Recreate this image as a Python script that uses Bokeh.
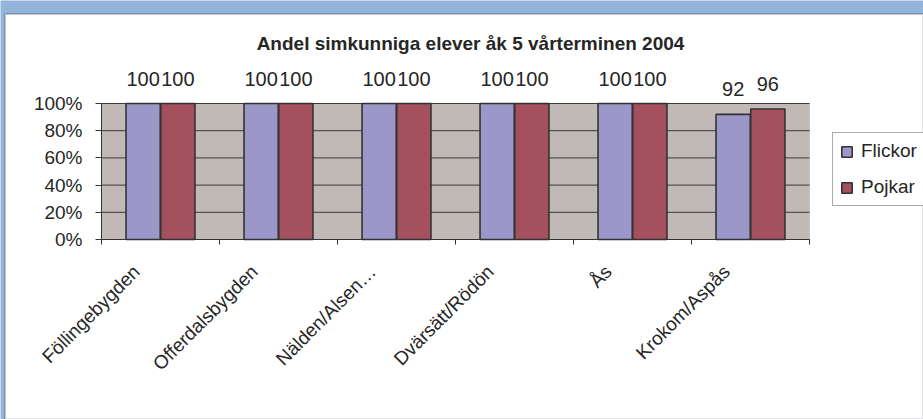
import math
from bokeh.plotting import figure
from bokeh.models import (ColumnDataSource, Range1d, FixedTicker,
                          PrintfTickFormatter, CustomJSTickFormatter, LabelSet,
                          Label, Legend, LegendItem, BoxAnnotation)
from bokeh.core.properties import value
from bokeh.transform import dodge
from bokeh.embed import file_html
from bokeh.resources import INLINE

# ---- data ----
categories = ["Föllingebygden", "Offerdalsbygden", "Nälden/Alsen…",
              "Dvärsätt/Rödön", "Ås", "Krokom/Aspås"]
flickor = [100, 100, 100, 100, 100, 92]
pojkar = [100, 100, 100, 100, 100, 96]
series_names = ["Flickor", "Pojkar"]
y_ticks = [0, 20, 40, 60, 80, 100]
title_text = "Andel simkunniga elever åk 5 vårterminen 2004"

# ---- layout (pixels) ----
W, H = 923, 419
AXIS_X_PX = 101      # x pixel of the value axis
SLOT_PX = 118        # width of one category slot
ZERO_PX = 239        # y pixel of 0 %
UNIT_PX = 1.36       # pixels per percentage point

def dx(px):
    return (px - AXIS_X_PX) / SLOT_PX

def dy(py):
    return (ZERO_PX - py) / UNIT_PX

FONT = "Liberation Sans"
TXT = "#262626"
PURPLE = "#9c97c9"
RED = "#a4505e"
PLOT_BG = "#c1b9b6"
EDGE = "#333333"
BLUE = "#95b4dc"

n = len(categories)
src = ColumnDataSource(dict(
    cat=categories,
    pos=[i + 0.5 for i in range(n)],   # slot centres
    f=flickor, p=pojkar,
    f_txt=[str(v) for v in flickor],
    p_txt=[str(v) for v in pojkar],
    zero=[0] * n,
))
grid_src = ColumnDataSource(dict(y=y_ticks, x0=[0] * len(y_ticks),
                                 x1=[n] * len(y_ticks)))

p = figure(x_range=Range1d(dx(0), dx(W)), y_range=Range1d(dy(H), dy(0)),
           width=W, height=H, output_backend="svg", toolbar_location=None,
           min_border=0)
p.title = None
p.background_fill_color = BLUE
p.border_fill_color = BLUE
p.outline_line_color = None
p.grid.visible = False

# white chart box and grey plot area
p.add_layout(BoxAnnotation(left=dx(4.5), top=dy(13.5), fill_color="white",
                           fill_alpha=1, line_color="#3c4650", line_width=2,
                           level="underlay"))
p.add_layout(BoxAnnotation(left=0, right=n, bottom=0, top=100,
                           fill_color=PLOT_BG, fill_alpha=1,
                           line_color="#8a8280", line_width=1,
                           level="underlay"))

# horizontal grid lines over the plot area
p.segment(x0="x0", x1="x1", y0="y", y1="y", source=grid_src,
          line_color="#3a3a3a", line_width=1)

# bars
off = 0.147
bw = 0.29
r1 = p.vbar(x=dodge("pos", -off), top="f", width=bw, source=src,
            fill_color=PURPLE, line_color=EDGE, line_width=1.6)
r2 = p.vbar(x=dodge("pos", off), top="p", width=bw, source=src,
            fill_color=RED, line_color=EDGE, line_width=1.6)

# value labels above bars
for col, top, ddx in (("f_txt", "f", -off), ("p_txt", "p", off)):
    p.add_layout(LabelSet(x=dodge("pos", ddx), y=top, text=col,
                          source=src, y_offset=18, text_align="center",
                          text_baseline="alphabetic", text_font=value(FONT),
                          text_font_size="20px", text_color=TXT))

# category labels (rotated)
p.add_layout(LabelSet(x="pos", y="zero", text="cat", source=src,
                      angle=math.pi / 4, x_offset=-24, y_offset=-29,
                      text_align="right", text_baseline="middle",
                      text_font=value(FONT), text_font_size="19px",
                      text_color=TXT))

# y axis
p.yaxis.fixed_location = 0
p.yaxis.bounds = (y_ticks[0], y_ticks[-1])
p.yaxis.ticker = FixedTicker(ticks=y_ticks)
p.yaxis.formatter = PrintfTickFormatter(format="%d%%")
p.yaxis.major_label_text_font = FONT
p.yaxis.major_label_text_font_size = "19px"
p.yaxis.major_label_text_color = TXT
p.yaxis.major_tick_in = 0
p.yaxis.major_tick_out = 6
p.yaxis.major_tick_line_color = EDGE
p.yaxis.minor_tick_line_color = None
p.yaxis.axis_line_color = EDGE
p.yaxis.major_label_standoff = 13

# x axis: ticks at category edges (names drawn rotated by the label set)
p.xaxis.fixed_location = 0
p.xaxis.bounds = (0, n)
p.xaxis.ticker = FixedTicker(ticks=list(range(n + 1)))
p.xaxis.formatter = CustomJSTickFormatter(code="return ''")
p.xaxis.major_tick_in = 0
p.xaxis.major_tick_out = 5
p.xaxis.major_tick_line_color = EDGE
p.xaxis.minor_tick_line_color = None
p.xaxis.axis_line_color = EDGE

# title
p.add_layout(Label(x=dx(470), y=dy(43), text=title_text,
                   text_align="center", text_baseline="middle",
                   text_font=FONT, text_font_size="19px",
                   text_font_style="bold", text_color=TXT))

# legend (screen units from frame bottom-left)
legend = Legend(items=[LegendItem(label=series_names[0], renderers=[r1]),
                       LegendItem(label=series_names[1], renderers=[r2])],
                location=(832, H - 206), orientation="vertical",
                border_line_color="#555555", border_line_width=1,
                background_fill_color="white", background_fill_alpha=1,
                padding=7, spacing=14, margin=0,
                glyph_width=13, glyph_height=13, label_standoff=8,
                label_height=20, label_text_font=FONT,
                label_text_font_size="19px", label_text_color=TXT)
p.add_layout(legend, "center")

open("out.html", "w").write(file_html(p, INLINE))
